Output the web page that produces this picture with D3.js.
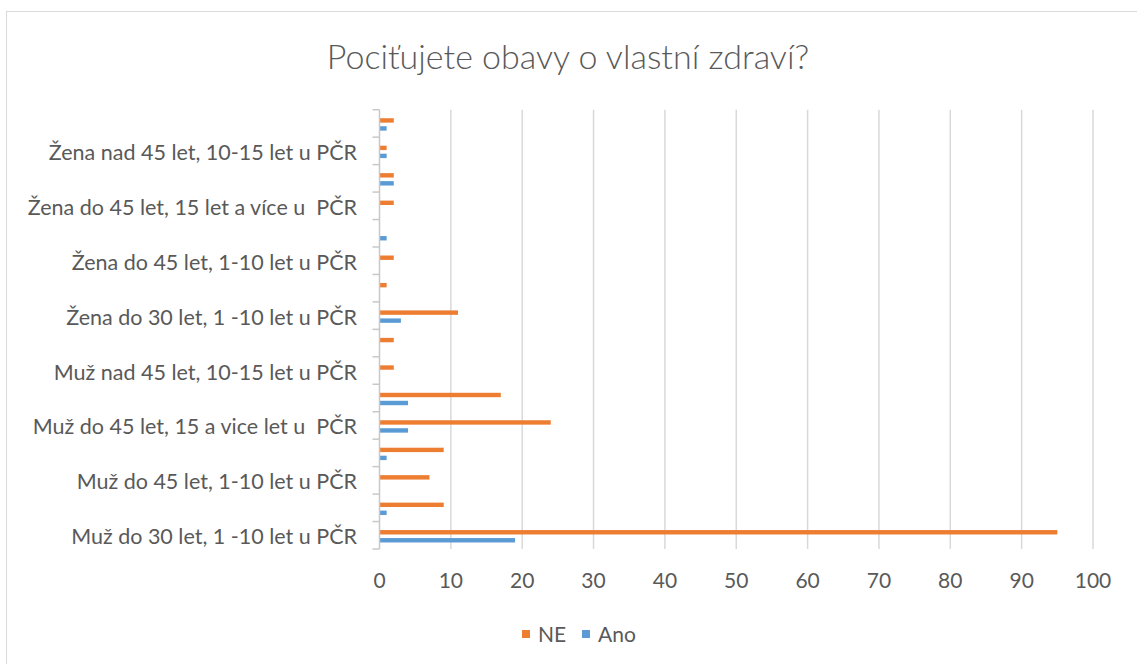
<!DOCTYPE html>
<html>
<head>
    <meta charset="utf-8">
    <title>Pociťujete obavy o vlastní zdraví?</title>
    <script src="https://cdn.jsdelivr.net/npm/d3@7"></script>
    <style>
        body { margin: 0; background: #fff; }
        svg { display: block; font-family: Lato, "Open Sans", sans-serif; }
        .frame { fill: none; stroke: #d9d9d9; stroke-width: 1; }
        .title { font-size: 34px; font-weight: 300; fill: #595959; text-anchor: middle; }
        .grid line { stroke: #d9d9d9; stroke-width: 1.5px; }
        .yaxis line { stroke: #c8c8c8; stroke-width: 1.5px; }
        .cat { font-size: 21.5px; fill: #595959; text-anchor: end; dominant-baseline: central; white-space: pre; }
        .tick-label { font-size: 21px; fill: #595959; text-anchor: middle; }
        .legend text { font-size: 21px; fill: #595959; }
    </style>
</head>
<body>
<svg id="chart" width="1137" height="664"></svg>
<script>
    // categories bottom to top, only every other one is labelled in the picture
    const categories = [
        "Muž do 30 let, 1 -10 let u PČR", "",
        "Muž do 45 let, 1-10 let u PČR", "",
        "Muž do 45 let, 15 a vice let u  PČR", "",
        "Muž nad 45 let, 10-15 let u PČR", "",
        "Žena do 30 let, 1 -10 let u PČR", "",
        "Žena do 45 let, 1-10 let u PČR", "",
        "Žena do 45 let, 15 let a více u  PČR", "",
        "Žena nad 45 let, 10-15 let u PČR", ""
    ];
    const neValues  = [95, 9, 7, 9, 24, 17, 2, 2, 11, 1, 2, 0, 2, 2, 1, 2];
    const anoValues = [19, 1, 0, 1, 4, 4, 0, 0, 3, 0, 0, 1, 0, 2, 1, 1];
    const xTicks = [0, 10, 20, 30, 40, 50, 60, 70, 80, 90, 100];
    const seriesNames = ["NE", "Ano"];
    const colors = { NE: "#ed7d31", Ano: "#5b9bd5" };

    const svg = d3.select("#chart");

    svg.append("rect").attr("class", "frame")
        .attr("x", 6.5).attr("y", 11.5).attr("width", 1140).attr("height", 670);

    svg.append("text").attr("class", "title")
        .attr("x", 568).attr("y", 69)
        .text("Pociťujete obavy o vlastní zdraví?");

    const x = d3.scaleLinear().domain([0, 100]).range([379.5, 1093]);
    const y = d3.scaleBand()
        .domain(d3.range(categories.length))
        .range([549, 109.7]);
    const bw = y.bandwidth();

    // vertical gridlines
    svg.append("g").attr("class", "grid")
        .selectAll("line").data(xTicks.slice(1)).join("line")
        .attr("x1", d => x(d)).attr("x2", d => x(d))
        .attr("y1", 109.7).attr("y2", 549);

    // bars
    const rows = svg.append("g").selectAll("g")
        .data(d3.range(categories.length)).join("g")
        .attr("transform", i => `translate(0,${y(i) + bw / 2})`);
    rows.append("rect")
        .attr("x", x(0)).attr("y", -5.2).attr("height", 4.4)
        .attr("width", i => x(neValues[i]) - x(0))
        .attr("fill", colors.NE);
    rows.append("rect")
        .attr("x", x(0)).attr("y", 2.8).attr("height", 4.4)
        .attr("width", i => x(anoValues[i]) - x(0))
        .attr("fill", colors.Ano);

    // category axis with tick marks at band edges
    const yAxis = svg.append("g").attr("class", "yaxis");
    yAxis.append("line")
        .attr("x1", x(0)).attr("x2", x(0))
        .attr("y1", 109.7).attr("y2", 549);
    yAxis.selectAll("line.tk")
        .data(d3.range(categories.length + 1)).join("line").attr("class", "tk")
        .attr("x1", x(0) - 7).attr("x2", x(0))
        .attr("y1", i => 549 - i * bw).attr("y2", i => 549 - i * bw);

    svg.append("g").selectAll("text")
        .data(d3.range(categories.length).filter(i => categories[i] !== ""))
        .join("text").attr("class", "cat")
        .attr("x", 357).attr("y", i => y(i) + bw / 2 + 1)
        .text(i => categories[i]);

    // value tick labels
    svg.append("g").selectAll("text")
        .data(xTicks).join("text").attr("class", "tick-label")
        .attr("x", d => x(d)).attr("y", 588)
        .text(d => d);

    // legend
    const legend = svg.append("g").attr("class", "legend");
    const lx = [522, 582];
    seriesNames.forEach((s, k) => {
        legend.append("rect")
            .attr("x", lx[k]).attr("y", 630).attr("width", 8).attr("height", 8)
            .attr("fill", colors[s]);
        legend.append("text")
            .attr("x", lx[k] + 16).attr("y", 642)
            .text(s);
    });
</script>
</body>
</html>
